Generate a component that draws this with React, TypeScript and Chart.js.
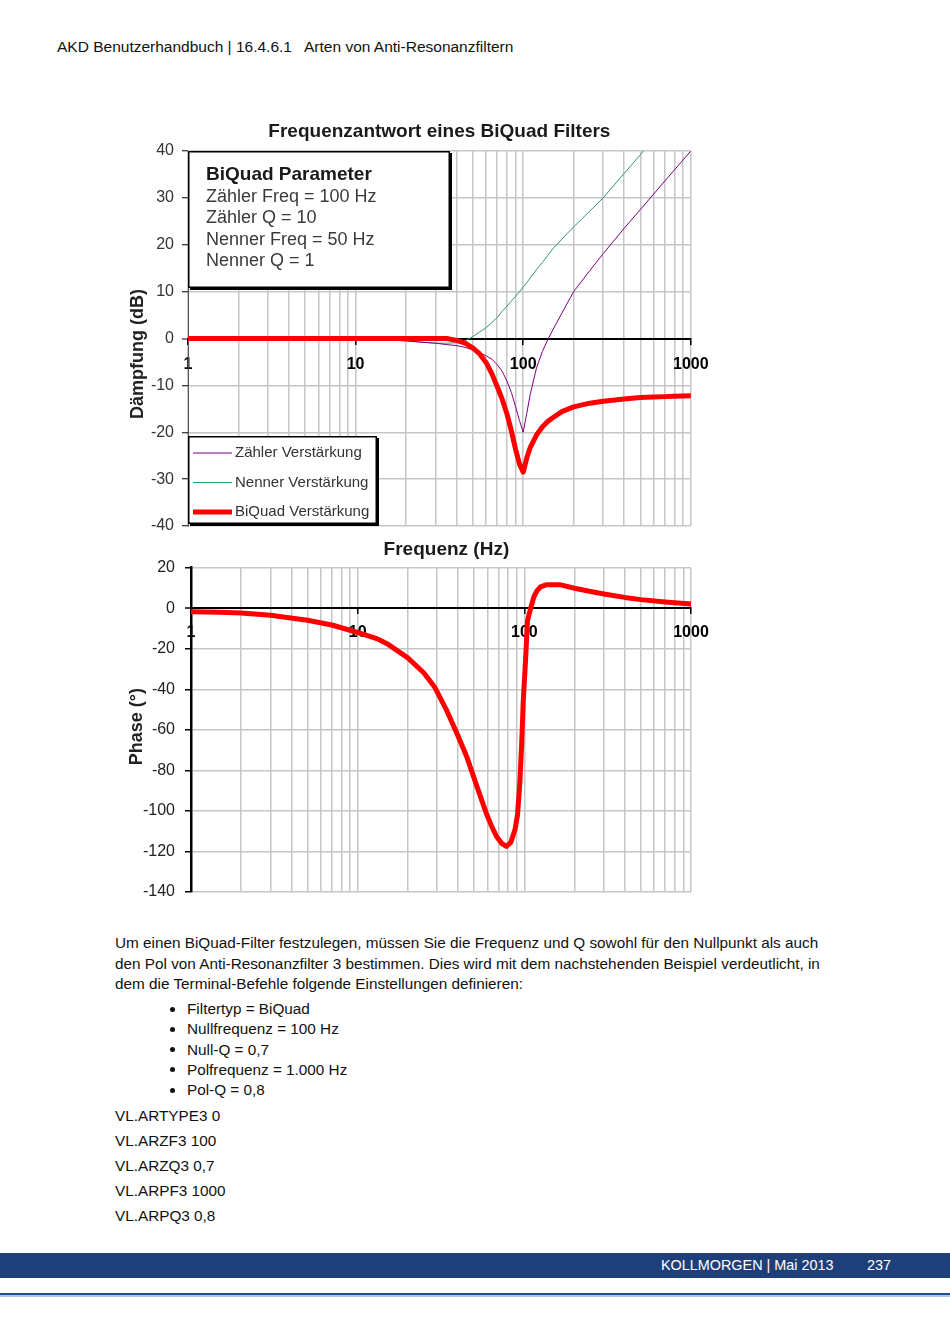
import React, { useEffect, useRef } from "react";
import { Chart, registerables } from "chart.js";

Chart.register(...registerables);

const FONT = '"Liberation Sans", Arial, Helvetica, sans-serif';

// ---------- data ----------
const X_TICKS = [1, 2, 3, 4, 5, 6, 7, 8, 9, 10, 20, 30, 40, 50, 60, 70, 80, 90, 100, 200, 300, 400, 500, 600, 700, 800, 900, 1000];
const X_LABELS = [1, 10, 100, 1000];

const MAG_FREQ = [1, 2, 5, 10, 15, 20, 25, 30, 35, 40, 45, 50, 55, 60, 65, 70, 75, 80, 85, 90, 95, 100, 105, 110, 120, 130, 140, 150, 170, 200, 250, 300, 400, 500, 600, 700, 800, 1000];
const ZAEHLER_DB = [0, 0, 0, 0, -0.3, -0.5, -0.8, -1.0, -1.3, -1.5, -1.9, -2.4, -3.0, -3.7, -4.4, -5.6, -7.0, -9.1, -11.5, -14.5, -17.5, -20.0, -16.0, -12.0, -6.3, -2.8, -0.3, 1.8, 5.4, 10.0, 14.5, 18.1, 23.5, 27.5, 30.8, 33.6, 36.0, 40.0];
const NENNER_DB = [0, 0, 0, 0, -0.3, -0.5, -0.8, -1.0, -1.0, -0.9, -0.5, 0.4, 1.4, 2.3, 3.4, 4.5, 5.8, 6.9, 8.0, 9.0, 10.0, 11.0, 11.9, 12.9, 14.7, 16.2, 17.7, 19.1, 21.2, 23.8, 27.2, 30.0, 35.2, 39.2, 42.5, null, null, null];
const BIQUAD_DB = [0, 0, 0, 0, 0, 0, 0, 0, 0, -0.4, -1.0, -2.0, -3.3, -5.1, -7.5, -10.3, -13.0, -16.1, -19.7, -23.6, -26.8, -28.5, -25.5, -23.3, -20.6, -18.9, -17.7, -16.9, -15.6, -14.6, -13.8, -13.4, -12.9, -12.6, -12.5, -12.4, -12.3, -12.2];

const PHASE_FREQ = [1, 1.5, 2, 3, 5, 7, 10, 13, 15, 20, 25, 29, 34, 40, 45, 52, 59, 64, 68, 73, 78, 83, 88, 91, 94, 96.5, 98.5, 101.5, 104.5, 110, 114, 119, 125, 136, 163, 200, 250, 300, 400, 500, 700, 1000];
const BIQUAD_PHASE = [-1.8, -2.0, -2.4, -3.5, -6.0, -8.3, -12.0, -15.0, -17.5, -24.5, -32.0, -39.0, -50.0, -63.0, -73.0, -88.0, -101.0, -108.0, -112.5, -116.0, -117.5, -115.5, -109.0, -102.0, -86.0, -66.0, -46.0, -27.0, -6.0, 1.0, 5.5, 8.5, 10.5, 11.6, 11.6, 9.8, 8.2, 7.0, 5.3, 4.2, 3.0, 2.0];

const SERIES_LABELS = ["Zähler Verstärkung", "Nenner Verstärkung", "BiQuad Verstärkung"];
const PARAM_TITLE = "BiQuad Parameter";
const PARAM_LINES = ["Zähler Freq = 100 Hz", "Zähler Q = 10", "Nenner Freq = 50 Hz", "Nenner Q = 1"];

const GRID = "#c6c6c6";

// ---------- plugins ----------
const paramBoxPlugin = {
  id: "paramBox",
  afterDraw(chart: any, _a: any, opts: any) {
    if (!opts || !opts.show) return;
    const { ctx, chartArea } = chart;
    const x = chartArea.left;
    const y = chartArea.top;
    const w = opts.width;
    const h = opts.height;
    ctx.save();
    ctx.fillStyle = "#000";
    ctx.fillRect(x + 2, y + 2, w, h);
    ctx.fillStyle = "#fff";
    ctx.fillRect(x, y, w, h);
    ctx.strokeStyle = "#000";
    ctx.lineWidth = 1.5;
    ctx.strokeRect(x + 0.75, y + 0.75, w - 1.5, h - 1.5);
    ctx.textBaseline = "middle";
    ctx.textAlign = "left";
    ctx.fillStyle = "#1a1a1a";
    ctx.font = `bold 19px ${FONT}`;
    ctx.fillText(PARAM_TITLE, x + 18, y + 24);
    ctx.fillStyle = "#3a3a3a";
    ctx.font = `18px ${FONT}`;
    PARAM_LINES.forEach((t, i) => ctx.fillText(t, x + 18, y + 46 + i * 21.5));
    ctx.restore();
  },
};

const legendBoxPlugin = {
  id: "legendBox",
  afterDraw(chart: any, _a: any, opts: any) {
    if (!opts || !opts.show) return;
    const { ctx, chartArea } = chart;
    const w = opts.width;
    const h = opts.height;
    const x = chartArea.left;
    const y = chartArea.bottom - h - 2;
    ctx.save();
    ctx.fillStyle = "#000";
    ctx.fillRect(x + 2, y + 2, w, h);
    ctx.fillStyle = "#fff";
    ctx.fillRect(x, y, w, h);
    ctx.strokeStyle = "#000";
    ctx.lineWidth = 1.5;
    ctx.strokeRect(x + 0.75, y + 0.75, w - 1.5, h - 1.5);
    ctx.font = `15px ${FONT}`;
    ctx.textBaseline = "middle";
    ctx.textAlign = "left";
    chart.data.datasets.forEach((ds: any, i: number) => {
      const cy = y + 17 + i * 29.5;
      ctx.strokeStyle = ds.borderColor;
      ctx.lineWidth = ds.borderWidth;
      ctx.beginPath();
      ctx.moveTo(x + 5, cy);
      ctx.lineTo(x + 44, cy);
      ctx.stroke();
      ctx.fillStyle = "#333";
      ctx.fillText(ds.label, x + 47, cy);
    });
    ctx.restore();
  },
};

const yTitlePlugin = {
  id: "yTitle",
  afterDraw(chart: any, _a: any, opts: any) {
    if (!opts || !opts.text) return;
    const { ctx, chartArea } = chart;
    ctx.save();
    ctx.translate(chartArea.left + opts.dx, chartArea.top + opts.dy);
    ctx.rotate(-Math.PI / 2);
    ctx.font = `bold 18px ${FONT}`;
    ctx.fillStyle = "#222";
    ctx.textAlign = "center";
    ctx.textBaseline = "middle";
    ctx.fillText(opts.text, 0, 0);
    ctx.restore();
  },
};

const xTitlePlugin = {
  id: "xTitle",
  afterDraw(chart: any, _a: any, opts: any) {
    if (!opts || !opts.text) return;
    const { ctx, chartArea } = chart;
    ctx.save();
    ctx.font = `bold 19px ${FONT}`;
    ctx.fillStyle = "#1a1a1a";
    ctx.textAlign = "center";
    ctx.textBaseline = "middle";
    ctx.fillText(opts.text, (chartArea.left + chartArea.right) / 2 + opts.dx, chartArea.bottom + opts.dy);
    ctx.restore();
  },
};

function xAxis(labelPad: number) {
  return {
    type: "logarithmic",
    min: 1,
    max: 1000,
    position: { y: 0 },
    afterBuildTicks: (scale: any) => {
      scale.ticks = X_TICKS.map((v) => ({ value: v }));
    },
    grid: {
      color: GRID,
      lineWidth: 1.5,
      drawTicks: true,
      tickLength: 5,
      tickWidth: 1.5,
      tickColor: (c: any) => (c.tick && X_LABELS.includes(c.tick.value) ? "#000" : "rgba(0,0,0,0)"),
    },
    border: { display: true, color: "#000", width: 2 },
    ticks: {
      autoSkip: false,
      maxRotation: 0,
      minRotation: 0,
      padding: labelPad,
      color: "#000",
      font: { family: FONT, size: 16, weight: "bold" },
      callback: (v: any) => (X_LABELS.includes(Number(v)) ? String(v) : ""),
    },
  };
}

function magConfig(): any {
  return {
    type: "line",
    data: {
      datasets: [
        {
          label: SERIES_LABELS[0],
          data: MAG_FREQ.map((f, i) => ({ x: f, y: ZAEHLER_DB[i] })),
          borderColor: "#800080",
          borderWidth: 1,
          pointRadius: 0,
          order: 1,
        },
        {
          label: SERIES_LABELS[1],
          data: MAG_FREQ.map((f, i) => ({ x: f, y: NENNER_DB[i] })),
          borderColor: "#339966",
          borderWidth: 1,
          pointRadius: 0,
          order: 1,
        },
        {
          label: SERIES_LABELS[2],
          data: MAG_FREQ.map((f, i) => ({ x: f, y: BIQUAD_DB[i] })),
          borderColor: "#ff0000",
          borderWidth: 5,
          pointRadius: 0,
          borderJoinStyle: "round",
          borderCapStyle: "round",
          order: 0,
        },
      ],
    },
    options: {
      responsive: false,
      animation: false,
      events: [],
      layout: { padding: { left: 0, right: 27, top: 0, bottom: 40 } },
      plugins: {
        legend: { display: false },
        tooltip: { enabled: false },
        title: {
          display: true,
          text: "Frequenzantwort eines BiQuad Filters",
          fullSize: false,
          color: "#1a1a1a",
          font: { family: FONT, size: 19, weight: "bold" },
          padding: { top: 10.6, bottom: 7.6 },
        },
        paramBox: { show: true, width: 262, height: 137 },
        legendBox: { show: true, width: 189, height: 88 },
        yTitle: { text: "Dämpfung (dB)", dx: -50, dy: 203 },
        xTitle: { text: "Frequenz (Hz)", dx: 7, dy: 24 },
      },
      scales: {
        x: xAxis(11.4),
        y: {
          min: -40,
          max: 40,
          afterFit: (s: any) => {
            s.width = 68;
          },
          ticks: { stepSize: 10, padding: 8, color: "#333", font: { family: FONT, size: 16 } },
          grid: {
            color: (c: any) => (c.tick && c.tick.value === 0 ? "#000" : GRID),
            lineWidth: (c: any) => (c.tick && c.tick.value === 0 ? 2 : 1.5),
            tickLength: 6,
            tickColor: "#000",
            tickWidth: 1,
          },
          border: { color: "#555", width: 1 },
        },
      },
    },
    plugins: [paramBoxPlugin, legendBoxPlugin, yTitlePlugin, xTitlePlugin],
  };
}

function phaseConfig(): any {
  return {
    type: "line",
    data: {
      datasets: [
        {
          label: "BiQuad Phase",
          data: PHASE_FREQ.map((f, i) => ({ x: f, y: BIQUAD_PHASE[i] })),
          borderColor: "#ff0000",
          borderWidth: 5,
          pointRadius: 0,
          borderJoinStyle: "round",
          borderCapStyle: "round",
        },
      ],
    },
    options: {
      responsive: false,
      animation: false,
      events: [],
      layout: { padding: { left: 0, right: 29, top: 0, bottom: 20 } },
      plugins: {
        legend: { display: false },
        tooltip: { enabled: false },
        yTitle: { text: "Phase (°)", dx: -54, dy: 159 },
      },
      scales: {
        x: xAxis(10),
        y: {
          min: -140,
          max: 20,
          afterFit: (s: any) => {
            s.width = 71;
          },
          ticks: { stepSize: 20, padding: 10, color: "#222", font: { family: FONT, size: 16 } },
          grid: {
            color: (c: any) => (c.tick && c.tick.value === 0 ? "#000" : GRID),
            lineWidth: (c: any) => (c.tick && c.tick.value === 0 ? 2 : 1.5),
            tickLength: 6,
            tickColor: "#000",
            tickWidth: 1.5,
          },
          border: { color: "#000", width: 2.5 },
        },
      },
    },
    plugins: [yTitlePlugin],
  };
}

function ChartCanvas(props: { make: () => any; left: number; top: number; width: number; height: number }) {
  const ref = useRef<HTMLCanvasElement>(null);
  useEffect(() => {
    if (!ref.current) return;
    const chart = new Chart(ref.current, props.make());
    return () => chart.destroy();
  }, []);
  return (
    <canvas
      ref={ref}
      width={props.width}
      height={props.height}
      style={{ position: "absolute", left: props.left, top: props.top, width: props.width, height: props.height }}
    />
  );
}

const HEADER = "AKD Benutzerhandbuch | 16.4.6.1   Arten von Anti-Resonanzfiltern";
const BODY_LINES = [
  "Um einen BiQuad-Filter festzulegen, müssen Sie die Frequenz und Q sowohl für den Nullpunkt als auch",
  "den Pol von Anti-Resonanzfilter 3 bestimmen. Dies wird mit dem nachstehenden Beispiel verdeutlicht, in",
  "dem die Terminal-Befehle folgende Einstellungen definieren:",
];
const BULLETS = ["Filtertyp = BiQuad", "Nullfrequenz = 100 Hz", "Null-Q = 0,7", "Polfrequenz = 1.000 Hz", "Pol-Q = 0,8"];
const COMMANDS = ["VL.ARTYPE3 0", "VL.ARZF3 100", "VL.ARZQ3 0,7", "VL.ARPF3 1000", "VL.ARPQ3 0,8"];

function T(props: { x: number; cy: number; size?: number; ls?: number; color?: string; children: any }) {
  const size = props.size ?? 15.3;
  return (
    <div
      style={{
        position: "absolute",
        left: props.x,
        top: props.cy - 10,
        height: 20,
        lineHeight: "20px",
        fontSize: size,
        letterSpacing: props.ls ?? 0,
        whiteSpace: "pre",
        color: props.color ?? "#111",
      }}
    >
      {props.children}
    </div>
  );
}

export default function App() {
  return (
    <div
      style={{
        position: "absolute",
        left: 0,
        top: 0,
        width: 950,
        height: 1344,
        overflow: "hidden",
        background: "#fff",
        fontFamily: FONT,
      }}
    >
      <T x={57} cy={47} size={15.5}>{HEADER}</T>

      <ChartCanvas make={magConfig} left={120} top={110} width={600} height={456} />
      <ChartCanvas make={phaseConfig} left={120} top={548.4} width={600} height={364} />

      {BODY_LINES.map((t, i) => (
        <T key={"b" + i} x={115} cy={943 + i * 20.5}>{t}</T>
      ))}
      {BULLETS.map((t, i) => (
        <React.Fragment key={"u" + i}>
          <div
            style={{
              position: "absolute",
              left: 170,
              top: 1009 + i * 20.3 - 2.5,
              width: 5,
              height: 5,
              borderRadius: 3,
              background: "#111",
            }}
          />
          <T x={187} cy={1009 + i * 20.3}>{t}</T>
        </React.Fragment>
      ))}
      {COMMANDS.map((t, i) => (
        <T key={"c" + i} x={115} cy={1116 + i * 25}>{t}</T>
      ))}

      <div style={{ position: "absolute", left: 0, top: 1253, width: 950, height: 25, background: "#1f3f7a" }} />
      <T x={661} cy={1265} size={14.4} color="#fff">{"KOLLMORGEN | Mai 2013"}</T>
      <T x={867} cy={1265} size={14.4} color="#fff">{"237"}</T>
      <div style={{ position: "absolute", left: 0, top: 1293, width: 950, height: 2, background: "#1f4e8c" }} />
      <div style={{ position: "absolute", left: 0, top: 1295, width: 950, height: 2, background: "#a9c8e8" }} />
    </div>
  );
}
